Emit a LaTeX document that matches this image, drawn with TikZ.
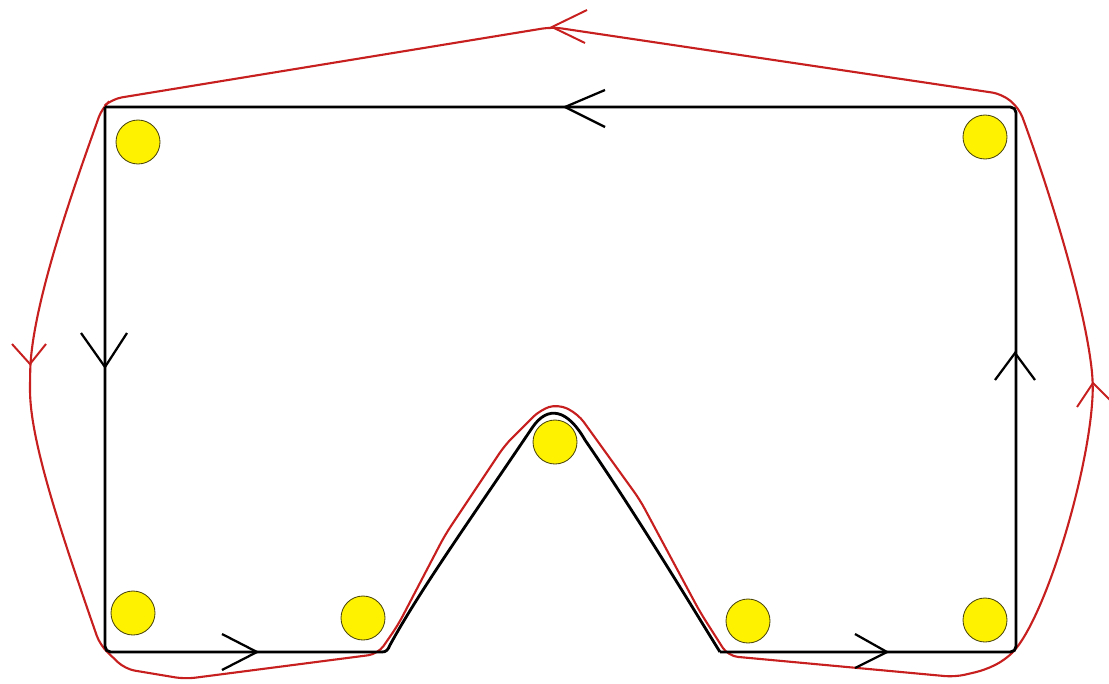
\documentclass[tikz,border=0pt]{standalone}
\usepackage{tikz}
\usetikzlibrary{calc}
\definecolor{loopred}{rgb}{0.78,0.12,0.12}
\definecolor{dotedge}{rgb}{0.3,0.28,0.05}

\begin{document}
\begin{tikzpicture}[x=0.025cm,y=-0.025cm]
    \useasboundingbox (0,0) rectangle (1109,683);
    \def\r{22}
    \coordinate (c1) at (105,107);
    \coordinate (c2) at (1016,107);
    \coordinate (c3) at (1016,652);
    \coordinate (c4) at (720,652);
    \coordinate (peak) at (557,407);
    \coordinate (c5) at (382,652);
    \coordinate (c6) at (105,652);
    % outer red loop
    \draw[loopred, line width=1.5pt, rounded corners=7pt]
        (552,27) -- (112,99)
        -- (102,108)
        .. controls (82,165) and (32,300) .. (30,380)
        .. controls (30,440) and (60,530) .. (100,645)
        -- (125,669) -- (185,679) -- (378,654) -- (398,625)
        -- (445,535) -- (505,445) -- (540,410) -- (558,404) -- (578,414)
        -- (640,500) -- (700,612) -- (728,656) -- (955,677) -- (985,670)
        -- (1005,660)
        .. controls (1045,620) and (1090,470) .. (1093,383)
        .. controls (1085,300) and (1042,170) .. (1019,108)
        -- (1002,94) -- cycle;
    % inner black loop
    \draw[line width=2pt, rounded corners=4pt]
        (c1) -- (c2) -- (c3) -- (c4);
    \draw[line width=2pt, rounded corners=4pt]
        (c5) -- (c6) -- (c1);
    \draw[line width=2pt]
        (c4) .. controls (700,620) and (640,520) .. (585,440)
        .. controls (568,410) and (548,404) .. (532,428)
        .. controls (470,520) and (420,590) .. (390,645)
        .. controls (388,650) and (386,652) .. (c5);
    % black chevrons
    \draw[line width=1.6pt] (605,90) -- (565,107) -- (605,127);
    \draw[line width=1.6pt] (81,333) -- (105,367) -- (127,333);
    \draw[line width=1.6pt] (222,634) -- (257,652) -- (222,670);
    \draw[line width=1.6pt] (855,634) -- (887,652) -- (855,668);
    \draw[line width=1.6pt] (995,380) -- (1015,353) -- (1035,380);
    % red chevrons
    \draw[loopred, line width=1.4pt] (587,10) -- (552,27) -- (585,43);
    \draw[loopred, line width=1.4pt] (12,344) -- (30,364) -- (46,344);
    \draw[loopred, line width=1.4pt] (1077,407) -- (1093,383) -- (1112,402);
    % yellow dots
    \draw[fill=yellow, draw=dotedge, line width=0.6pt] (138,142) circle(\r);
    \draw[fill=yellow, draw=dotedge, line width=0.6pt] (985,137) circle(\r);
    \draw[fill=yellow, draw=dotedge, line width=0.6pt] (555,442) circle(\r);
    \draw[fill=yellow, draw=dotedge, line width=0.6pt] (133,613) circle(\r);
    \draw[fill=yellow, draw=dotedge, line width=0.6pt] (363,618) circle(\r);
    \draw[fill=yellow, draw=dotedge, line width=0.6pt] (748,621) circle(\r);
    \draw[fill=yellow, draw=dotedge, line width=0.6pt] (985,620) circle(\r);
  \end{tikzpicture}
\end{document}
